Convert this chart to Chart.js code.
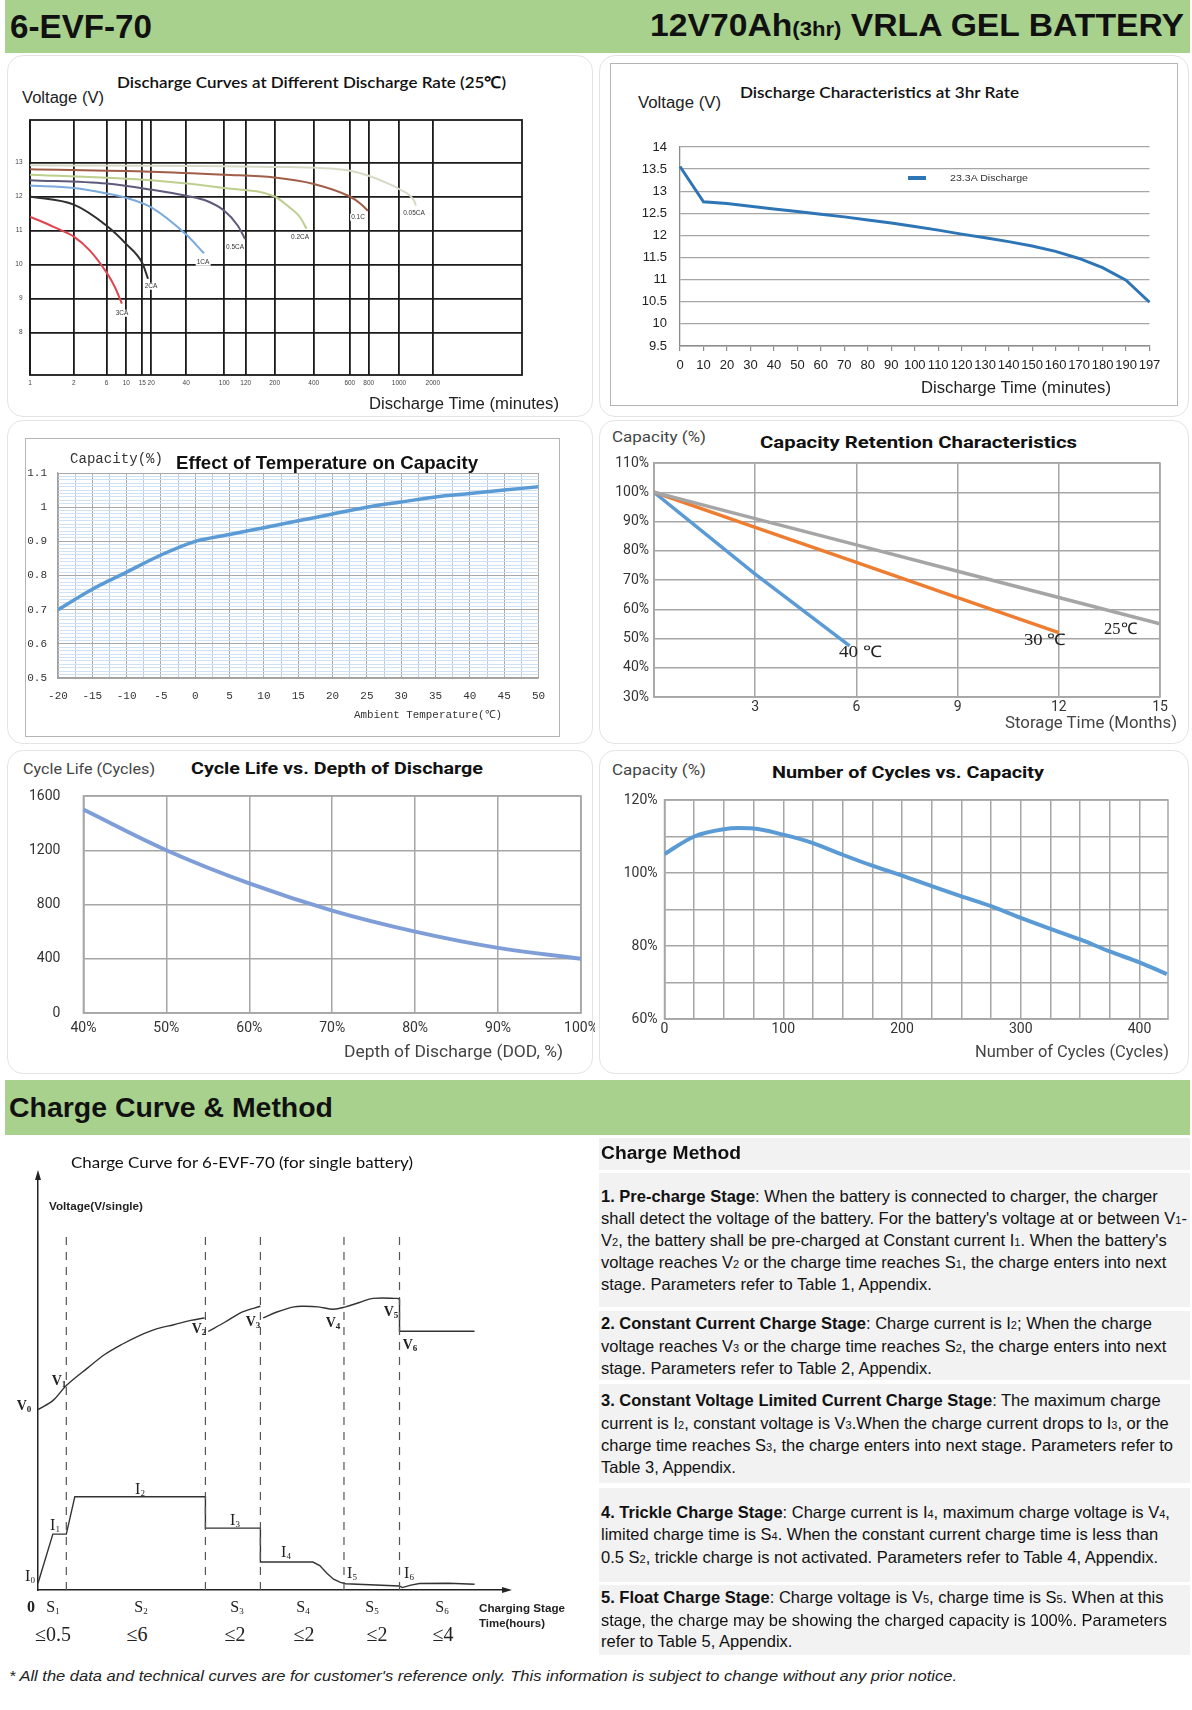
<!DOCTYPE html>
<html>
<head>
<meta charset="utf-8">
<script src="https://cdn.jsdelivr.net/npm/chart.js@4.4.1/dist/chart.umd.min.js"></script>
<style>
body { margin: 0; background: #fff; }
#page { position: relative; width: 1192px; height: 1710px; overflow: hidden; font-family: "Liberation Sans", Arial, sans-serif; color: #111; }
canvas { position: absolute; z-index: 1; }
.band { position: absolute; background: #a9d18e; }
.panel { position: absolute; border: 1px solid #e4e4e4; border-radius: 16px; }
.box { position: absolute; border: 1.5px solid #b4b4b4; }
.t { position: absolute; white-space: nowrap; line-height: 1; transform: translateY(-50%); transform-origin: 0 50%; z-index: 2; }
.c { position: absolute; white-space: nowrap; line-height: 1; transform: translate(-50%, -50%); z-index: 2; }
.lab { font-size: 6.5px; background: #fff; padding: 0 1px; color: #333; }
.sf { font-family: "Liberation Serif", "Times New Roman", serif; color: #222; }
.sf sub { font-size: 9px; vertical-align: -2px; }
.bd { font-weight: bold; }
.row { position: absolute; left: 599px; width: 591px; background: #f2f2f2; }
.ln { position: absolute; left: 601px; white-space: nowrap; font-size: 16.5px; line-height: 1; transform: translateY(-50%); z-index: 2; color: #111; }
.ln b { font-weight: bold; }
.sb { font-size: 11px; }
</style>
</head>
<body>
<div id="page">

<div class="band" style="left:5px;top:0;width:1185px;height:53px"></div>
<div class="t" data-w="142" style="left:10px;top:26px;font-weight:bold;font-size:33px;color:#111">6-EVF-70</div>
<div class="t" data-w="534" style="left:650px;top:25px;font-weight:bold;font-size:32px;color:#111">12V70Ah<span style="font-size:21px">(3hr)</span> VRLA GEL BATTERY</div>

<div class="panel" style="left:7px;top:55px;width:584px;height:360px"></div>
<div class="panel" style="left:599px;top:55px;width:588px;height:360px"></div>
<div class="panel" style="left:7px;top:420px;width:584px;height:322px"></div>
<div class="panel" style="left:599px;top:420px;width:588px;height:322px"></div>
<div class="panel" style="left:7px;top:750px;width:584px;height:322px"></div>
<div class="panel" style="left:599px;top:750px;width:588px;height:322px"></div>
<div class="box" style="left:610px;top:63px;width:566px;height:341px"></div>
<div class="box" style="left:25px;top:438px;width:533px;height:297px"></div>

<!-- top left texts -->
<div class="t" data-w="389" style="left:117px;top:82px;font-family:Lato,sans-serif;font-weight:600;font-size:16px;color:#111">Discharge Curves at Different Discharge Rate (25℃)</div>
<div class="t" data-w="82" style="left:22px;top:98px;font-size:16px;color:#222">Voltage (V)</div>
<div class="t" data-w="190" style="left:369px;top:404px;font-size:16px;color:#222">Discharge Time (minutes)</div>
<div class="c lab" style="left:122px;top:313px">3CA</div>
<div class="c lab" style="left:151px;top:286px">2CA</div>
<div class="c lab" style="left:203px;top:262px">1CA</div>
<div class="c lab" style="left:235px;top:247px">0.5CA</div>
<div class="c lab" style="left:300px;top:237px">0.2CA</div>
<div class="c lab" style="left:358px;top:217px">0.1C</div>
<div class="c lab" style="left:414px;top:213px">0.05CA</div>

<!-- top right texts -->
<div class="t" data-w="279" style="left:740px;top:92px;font-family:Lato,sans-serif;font-weight:600;font-size:16px;color:#111">Discharge Characteristics at 3hr Rate</div>
<div class="t" data-w="83" style="left:638px;top:103px;font-size:16px;color:#222">Voltage (V)</div>
<div class="t" data-w="190" style="left:921px;top:388px;font-size:16px;color:#222">Discharge Time (minutes)</div>
<div style="position:absolute;left:908px;top:176px;width:18px;height:4px;background:#2e75b6;z-index:2"></div>
<div class="t" data-w="78" style="left:950px;top:178px;font-size:9.5px;color:#333">23.3A Discharge</div>

<!-- middle left texts -->
<div class="t" data-w="93" style="left:70px;top:459px;font-family:'Liberation Mono',monospace;font-size:14px;color:#333">Capacity(%)</div>
<div class="t" data-w="302" style="left:176px;top:462px;font-weight:bold;font-size:19px;color:#111">Effect of Temperature on Capacity</div>
<div class="t" data-w="148" style="left:354px;top:715px;font-family:'Liberation Mono',monospace;font-size:11px;color:#333">Ambient Temperature(℃)</div>

<!-- middle right texts -->
<div class="t" data-w="94" style="left:612px;top:437px;font-family:Roboto,sans-serif;font-size:15px;color:#444">Capacity (%)</div>
<div class="t" data-w="317" style="left:760px;top:442px;font-family:Roboto,sans-serif;font-weight:bold;font-size:17px;color:#111">Capacity Retention Characteristics</div>
<div class="t" data-w="172" style="left:1005px;top:723px;font-family:Roboto,sans-serif;font-size:16px;color:#444">Storage Time (Months)</div>
<div class="t sf" data-w="43" style="left:839px;top:652px;font-size:16px">40 ℃</div>
<div class="t sf" data-w="42" style="left:1024px;top:640px;font-size:16px">30 ℃</div>
<div class="t sf" data-w="33" style="left:1104px;top:629px;font-size:16px">25℃</div>

<!-- bottom left texts -->
<div class="t" data-w="132" style="left:23px;top:769px;font-family:Roboto,sans-serif;font-size:15px;color:#444">Cycle Life (Cycles)</div>
<div class="t" data-w="292" style="left:191px;top:768px;font-family:Roboto,sans-serif;font-weight:bold;font-size:17px;color:#111">Cycle Life vs. Depth of Discharge</div>
<div class="t" data-w="219" style="left:344px;top:1052px;font-family:Roboto,sans-serif;font-size:16px;color:#444">Depth of Discharge (DOD, %)</div>

<!-- bottom right texts -->
<div class="t" data-w="94" style="left:612px;top:770px;font-family:Roboto,sans-serif;font-size:15px;color:#444">Capacity (%)</div>
<div class="t" data-w="272" style="left:772px;top:772px;font-family:Roboto,sans-serif;font-weight:bold;font-size:17px;color:#111">Number of Cycles vs. Capacity</div>
<div class="t" data-w="194" style="left:975px;top:1052px;font-family:Roboto,sans-serif;font-size:16px;color:#444">Number of Cycles (Cycles)</div>

<!-- charge section -->
<div class="band" style="left:5px;top:1080px;width:1185px;height:55px"></div>
<div class="t" data-w="324" style="left:9px;top:1108px;font-weight:bold;font-size:28px;color:#111">Charge Curve &amp; Method</div>
<div class="t" data-w="342" style="left:71px;top:1162px;font-family:Lato,sans-serif;font-size:16px;color:#111">Charge Curve for 6-EVF-70 (for single battery)</div>
<div class="t" data-w="94" style="left:49px;top:1206px;font-weight:bold;font-size:10.5px;color:#222">Voltage(V/single)</div>

<div class="c sf bd" style="left:24px;top:1406px;font-size:14px">V<sub>0</sub></div>
<div class="c sf bd" style="left:59px;top:1381px;font-size:14px">V<sub>1</sub></div>
<div class="c sf bd" style="left:199px;top:1329px;font-size:14px">V<sub>2</sub></div>
<div class="c sf bd" style="left:253px;top:1322px;font-size:14px">V<sub>3</sub></div>
<div class="c sf bd" style="left:333px;top:1323px;font-size:14px">V<sub>4</sub></div>
<div class="c sf bd" style="left:391px;top:1312px;font-size:14px">V<sub>5</sub></div>
<div class="c sf bd" style="left:410px;top:1345px;font-size:14px">V<sub>6</sub></div>
<div class="c sf" style="left:30px;top:1576px;font-size:16px">I<sub>0</sub></div>
<div class="c sf" style="left:55px;top:1525px;font-size:16px">I<sub>1</sub></div>
<div class="c sf" style="left:140px;top:1489px;font-size:16px">I<sub>2</sub></div>
<div class="c sf" style="left:235px;top:1520px;font-size:16px">I<sub>3</sub></div>
<div class="c sf" style="left:286px;top:1552px;font-size:16px">I<sub>4</sub></div>
<div class="c sf" style="left:352px;top:1573px;font-size:16px">I<sub>5</sub></div>
<div class="c sf" style="left:409px;top:1573px;font-size:16px">I<sub>6</sub></div>

<div class="c sf bd" style="left:31px;top:1607px;font-size:16px">0</div>
<div class="c sf" style="left:53px;top:1607px;font-size:16px">S<sub>1</sub></div>
<div class="c sf" style="left:141px;top:1607px;font-size:16px">S<sub>2</sub></div>
<div class="c sf" style="left:237px;top:1607px;font-size:16px">S<sub>3</sub></div>
<div class="c sf" style="left:303px;top:1607px;font-size:16px">S<sub>4</sub></div>
<div class="c sf" style="left:372px;top:1607px;font-size:16px">S<sub>5</sub></div>
<div class="c sf" style="left:442px;top:1607px;font-size:16px">S<sub>6</sub></div>
<div class="c sf" style="left:53px;top:1634px;font-size:20px">≤0.5</div>
<div class="c sf" style="left:137px;top:1634px;font-size:20px">≤6</div>
<div class="c sf" style="left:235px;top:1634px;font-size:20px">≤2</div>
<div class="c sf" style="left:304px;top:1634px;font-size:20px">≤2</div>
<div class="c sf" style="left:377px;top:1634px;font-size:20px">≤2</div>
<div class="c sf" style="left:443px;top:1634px;font-size:20px">≤4</div>
<div class="t" data-w="86" style="left:479px;top:1608px;font-weight:bold;font-size:10.5px;color:#222">Charging Stage</div>
<div class="t" data-w="66" style="left:479px;top:1623px;font-weight:bold;font-size:10.5px;color:#222">Time(hours)</div>

<!-- charge method text -->
<div class="row" style="top:1138px;height:32px"></div>
<div class="row" style="top:1173px;height:134px"></div>
<div class="row" style="top:1311px;height:69px"></div>
<div class="row" style="top:1384px;height:99px"></div>
<div class="row" style="top:1488px;height:94px"></div>
<div class="row" style="top:1585px;height:70px"></div>
<div class="t" data-w="140" style="left:601px;top:1153px;font-weight:bold;font-size:18px;color:#111">Charge Method</div>

<div class="ln" style="top:1196px"><b>1. Pre-charge Stage</b>: When the battery is connected to charger, the charger</div>
<div class="ln" style="top:1218px">shall detect the voltage of the battery. For the battery's voltage at or between V<span class="sb">1</span>-</div>
<div class="ln" style="top:1240px">V<span class="sb">2</span>, the battery shall be pre-charged at Constant current I<span class="sb">1</span>. When the battery's</div>
<div class="ln" style="top:1262px">voltage reaches V<span class="sb">2</span> or the charge time reaches S<span class="sb">1</span>, the charge enters into next</div>
<div class="ln" style="top:1284px">stage. Parameters refer to Table 1, Appendix.</div>

<div class="ln" style="top:1323px"><b>2. Constant Current Charge Stage</b>: Charge current is I<span class="sb">2</span>; When the charge</div>
<div class="ln" style="top:1346px">voltage reaches V<span class="sb">3</span> or the charge time reaches S<span class="sb">2</span>, the charge enters into next</div>
<div class="ln" style="top:1368px">stage. Parameters refer to Table 2, Appendix.</div>

<div class="ln" style="top:1400px"><b>3. Constant Voltage Limited Current Charge Stage</b>: The maximum charge</div>
<div class="ln" style="top:1423px">current is I<span class="sb">2</span>, constant voltage is V<span class="sb">3</span>.When the charge current drops to I<span class="sb">3</span>, or the</div>
<div class="ln" style="top:1445px">charge time reaches S<span class="sb">3</span>, the charge enters into next stage. Parameters refer to</div>
<div class="ln" style="top:1467px">Table 3, Appendix.</div>

<div class="ln" style="top:1512px"><b>4. Trickle Charge Stage</b>: Charge current is I<span class="sb">4</span>, maximum charge voltage is V<span class="sb">4</span>,</div>
<div class="ln" style="top:1534px">limited charge time is S<span class="sb">4</span>. When the constant current charge time is less than</div>
<div class="ln" style="top:1557px">0.5 S<span class="sb">2</span>, trickle charge is not activated. Parameters refer to Table 4, Appendix.</div>

<div class="ln" style="top:1597px"><b>5. Float Charge Stage</b>: Charge voltage is V<span class="sb">5</span>, charge time is S<span class="sb">5</span>. When at this</div>
<div class="ln" style="top:1620px">stage, the charge may be showing the charged capacity is 100%. Parameters</div>
<div class="ln" style="top:1641px">refer to Table 5, Appendix.</div>

<div class="t" data-w="948" style="left:9px;top:1675px;font-style:italic;font-size:15px;color:#222">* All the data and technical curves are for customer's reference only. This information is subject to change without any prior notice.</div>

</div>

<script>
// ---------- data ----------
// Discharge curves at different rates: time (minutes), voltage (V)
const t3CA = [1, 1.55, 2, 3.96, 6, 7.67, 9.1];
const v3CA = [11.41, 11.1, 10.82, 10.41, 9.76, 9.34, 8.85];
const t2CA = [1, 2, 6, 10, 15, 18.2];
const v2CA = [12.0, 11.76, 11.14, 10.6, 10.04, 9.58];
const t1CA = [1, 2, 6, 10, 20, 40, 68];
const v1CA = [12.32, 12.25, 12.09, 11.96, 11.68, 10.88, 10.33];
const t05CA = [1, 6, 20, 40, 73.7, 100, 112.7, 119.4];
const v05CA = [12.48, 12.38, 12.2, 12.02, 11.86, 11.58, 11.14, 10.75];
const t02CA = [1, 20, 100, 200, 276, 330, 363];
const v02CA = [12.64, 12.48, 12.25, 12.0, 11.68, 11.39, 11.05];
const t01C = [1, 20, 100, 200, 400, 600, 717, 792];
const v01C = [12.8, 12.73, 12.64, 12.56, 12.37, 12.0, 11.78, 11.58];
const t005CA = [1, 200, 600, 800, 913, 1000, 1453, 1500];
const v005CA = [12.92, 12.87, 12.76, 12.61, 12.41, 12.22, 11.86, 11.73];
const minuteTicks = [1, 2, 6, 10, 15, 20, 40, 100, 120, 200, 400, 600, 800, 1000, 2000];
const voltTicks = [8, 9, 10, 11, 12, 13];

// Discharge at 3hr rate
const times3hr = ['0','10','20','30','40','50','60','70','80','90','100','110','120','130','140','150','160','170','180','190','197'];
const volts3hr = [13.56, 12.76, 12.72, 12.66, 12.6, 12.54, 12.48, 12.42, 12.35, 12.28, 12.2, 12.12, 12.03, 11.95, 11.86, 11.76, 11.64, 11.48, 11.27, 10.99, 10.49];

// Effect of temperature on capacity
const tempC = [-20, -15, -10, -5, 0, 5, 10, 15, 20, 25, 30, 35, 40, 45, 50];
const tempCap = [0.70, 0.76, 0.81, 0.86, 0.90, 0.92, 0.94, 0.96, 0.98, 1.00, 1.015, 1.03, 1.04, 1.05, 1.06];

// Capacity retention (months, %)
const months40 = [0, 3, 5.8];
const ret40 = [100, 72, 47.5];
const months30 = [0, 3, 6, 9, 12];
const ret30 = [100, 88, 76, 64, 52];
const months25 = [0, 3, 6, 9, 12, 15];
const ret25 = [100, 91, 82, 73, 64, 55];

// Cycle life vs DOD
const dodLabels = ['40%', '50%', '60%', '70%', '80%', '90%', '100%'];
const cycleLife = [1500, 1200, 955, 755, 600, 480, 400];

// Number of cycles vs capacity
const cycleNo = [0, 25, 50, 62, 75, 100, 125, 150, 175, 200, 225, 250, 275, 300, 325, 350, 375, 400, 423];
const cycleCap = [105.2, 110, 112, 112.3, 112.2, 110.5, 108.2, 105, 102, 99.3, 96.4, 93.6, 90.9, 87.7, 84.7, 81.8, 78.5, 75.5, 72.3];

// Charge curve schematic (stage units)
const stageEdges = [1.03, 6.09, 8.09, 11.13, 13.15];
const dashTop = 13.06;
const vSeg1x = [0, 0.56, 1.03, 1.81, 2.44, 3.06, 3.69, 4.31, 4.94, 5.56, 6.06];
const vSeg1y = [6.65, 7.0, 7.54, 8.19, 8.69, 9.06, 9.38, 9.63, 9.78, 9.94, 10.03];
const vSeg2x = [6.19, 6.81, 7.44, 8.09];
const vSeg2y = [9.53, 9.88, 10.25, 10.46];
const vSeg3x = [8.19, 8.69, 9.31, 9.69, 10.19, 10.75, 11.19, 11.69, 12.19, 13.06, 13.15];
const vSeg3y = [10.03, 10.25, 10.44, 10.46, 10.44, 10.35, 10.44, 10.6, 10.75, 10.75, 10.73];
const vFloatX = [13.15, 13.15, 15.88];
const vFloatY = [10.73, 9.54, 9.54];
const iX = [0, 0.54, 1.03, 1.34, 6.09, 6.09, 8.09, 8.09, 10.0, 10.25, 10.5, 10.75, 11.0, 11.19, 13.15, 13.25, 13.56, 13.88, 14.94, 15.88];
const iY = [0.25, 2.06, 2.06, 3.44, 3.44, 2.28, 2.28, 1.03, 1.03, 0.9, 0.63, 0.4, 0.28, 0.23, 0.15, 0.09, 0.18, 0.24, 0.25, 0.21];

// ---------- helpers ----------
const page = document.getElementById('page');
function mk(left, top, w, h) {
  const c = document.createElement('canvas');
  c.width = w; c.height = h;
  c.style.left = left + 'px'; c.style.top = top + 'px';
  page.appendChild(c);
  return c.getContext('2d');
}
function pts(xs, ys) { return xs.map((x, i) => ({ x: x, y: ys[i] })); }
function fixY(w) { return s => { s.width = w; s.paddingTop = 0; s.paddingBottom = 0; }; }
function fixX(h) { return s => { s.height = h; s.paddingLeft = 0; s.paddingRight = 0; }; }

Chart.defaults.animation = false;
Chart.defaults.responsive = false;
Chart.defaults.font.family = '"Liberation Sans", Arial, sans-serif';
Chart.defaults.plugins.legend.display = false;
Chart.defaults.plugins.tooltip.enabled = false;
Chart.defaults.elements.point.radius = 0;

const framePlugin = {
  id: 'frame',
  beforeDatasetsDraw(chart, args, opts) {
    if (!opts || !opts.color) return;
    const a = chart.chartArea, ctx = chart.ctx;
    ctx.save();
    ctx.strokeStyle = opts.color;
    ctx.lineWidth = opts.width || 1;
    ctx.strokeRect(a.left, a.top, a.right - a.left, a.bottom - a.top);
    ctx.restore();
  }
};
Chart.register(framePlugin);

// irregular time axis of the rate chart: where each labelled minute sits along the axis
const minuteTickPos = [0, 0.0891, 0.1558, 0.1957, 0.2283, 0.2464, 0.3174, 0.3949, 0.4384, 0.4971, 0.5768, 0.65, 0.6884, 0.75, 0.8188];
function minuteToFrac(v) {
  const m = minuteTicks, p = minuteTickPos, n = m.length;
  if (v <= m[0]) return 0;
  for (let i = 0; i < n - 1; i++) {
    if (v <= m[i + 1]) return p[i] + (v - m[i]) / (m[i + 1] - m[i]) * (p[i + 1] - p[i]);
  }
  return p[n - 1] + (v - m[n - 1]) / (m[n - 1] - m[n - 2]) * (p[n - 1] - p[n - 2]);
}
class BreakScale extends Chart.LinearScale {
  static id = 'breaks';
  getPixelForValue(v) { return this.getPixelForDecimal(minuteToFrac(v)); }
}
Chart.register(BreakScale);

// ---------- chart 1: discharge curves at different rates ----------
const rateSeries = [
  [t3CA, v3CA, '#e2444f'],
  [t2CA, v2CA, '#2f2f2f'],
  [t1CA, v1CA, '#7aa9dc'],
  [t05CA, v05CA, '#5d5a7a'],
  [t02CA, v02CA, '#bccf8e'],
  [t01C, v01C, '#a05e48'],
  [t005CA, v005CA, '#d6dac4']
];
new Chart(mk(0, 110, 530, 290), {
  type: 'line',
  data: {
    datasets: rateSeries.map(s => ({
      data: pts(s[0], s[1]), borderColor: s[2], borderWidth: 2, cubicInterpolationMode: 'monotone'
    }))
  },
  options: {
    layout: { padding: { top: 10, right: 8, left: 0, bottom: 0 } },
    plugins: { frame: { color: '#1a1a1a', width: 1.8 } },
    scales: {
      x: {
        type: 'breaks', min: 1, max: 2000,
        afterBuildTicks: s => { s.ticks = minuteTicks.map(v => ({ value: v })); },
        afterFit: fixX(25),
        grid: { color: '#1a1a1a', lineWidth: 1.8, drawTicks: false },
        border: { display: false },
        ticks: { autoSkip: false, maxRotation: 0, padding: 4.5, font: { size: 6.5 }, color: '#444', callback: v => String(v) }
      },
      y: {
        min: 6.75, max: 14.25,
        afterBuildTicks: s => { s.ticks = voltTicks.map(v => ({ value: v })); },
        afterFit: fixY(30),
        grid: { color: '#1a1a1a', lineWidth: 1.8, drawTicks: false },
        border: { display: false },
        ticks: { padding: 7.5, font: { size: 6.5 }, color: '#444', callback: v => String(v) }
      }
    }
  }
});

// ---------- chart 2: discharge at 3hr rate ----------
new Chart(mk(610, 135, 560, 250), {
  type: 'line',
  data: {
    labels: times3hr,
    datasets: [{ label: '23.3A Discharge', data: volts3hr, borderColor: '#2e75b6', borderWidth: 3, tension: 0 }]
  },
  options: {
    layout: { padding: { top: 12, right: 20.5, left: 0, bottom: 0 } },
    scales: {
      x: {
        type: 'category', offset: false,
        afterFit: fixX(39),
        grid: { display: true, drawOnChartArea: false, drawTicks: true, tickLength: 5, color: '#8c8c8c', lineWidth: 1.2 },
        border: { display: true, color: '#8c8c8c', width: 1.5 },
        ticks: { autoSkip: false, maxRotation: 0, padding: 7, font: { size: 13 }, color: '#222' }
      },
      y: {
        min: 9.5, max: 14,
        afterFit: fixY(70),
        grid: { color: '#a6a6a6', lineWidth: 1.3, drawTicks: false },
        border: { display: true, color: '#8c8c8c', width: 1.3 },
        ticks: { stepSize: 0.5, padding: 13, font: { size: 13 }, color: '#222', callback: v => String(v) }
      }
    }
  }
});

// ---------- chart 3: effect of temperature ----------
const isTenth = v => Math.abs(v * 10 - Math.round(v * 10)) < 1e-6;
new Chart(mk(25, 463, 530, 250), {
  type: 'line',
  data: { datasets: [{ data: pts(tempC, tempCap), borderColor: '#5b9bd5', borderWidth: 3.5, tension: 0.3 }] },
  options: {
    layout: { padding: { top: 10, right: 16.5, left: 0, bottom: 0 } },
    scales: {
      x: {
        type: 'linear', min: -20, max: 50,
        afterFit: fixX(35),
        grid: { color: ctx => (ctx.tick && ctx.tick.value % 5 === 0) ? '#a8a8a8' : '#bccbdb', lineWidth: 1, drawTicks: false },
        border: { display: true, color: '#a0a0a0', width: 1.2 },
        ticks: { stepSize: 2.5, autoSkip: false, maxRotation: 0, padding: 11, font: { family: '"Liberation Mono", monospace', size: 11 }, color: '#333',
          callback: v => (v % 5 === 0 ? String(v) : '') }
      },
      y: {
        min: 0.5, max: 1.1,
        afterFit: fixY(33),
        grid: { color: ctx => (ctx.tick && isTenth(ctx.tick.value)) ? '#a8a8a8' : '#cfe1f3', lineWidth: 1, drawTicks: false },
        border: { display: true, color: '#a0a0a0', width: 1.2 },
        ticks: { stepSize: 0.01, autoSkip: false, padding: 11, font: { family: '"Liberation Mono", monospace', size: 11 }, color: '#333',
          callback: v => (isTenth(v) ? String(Math.round(v * 10) / 10) : '') }
      }
    }
  }
});

// ---------- chart 4: capacity retention ----------
const dinFont = { family: 'Roboto, sans-serif', size: 14 };
new Chart(mk(598, 453, 575, 270), {
  type: 'line',
  data: {
    datasets: [
      { data: pts(months25, ret25), borderColor: '#a5a5a5', borderWidth: 3.5, tension: 0 },
      { data: pts(months30, ret30), borderColor: '#ed7d31', borderWidth: 3.5, tension: 0 },
      { data: pts(months40, ret40), borderColor: '#5b9bd5', borderWidth: 3.5, tension: 0 }
    ]
  },
  options: {
    layout: { padding: { top: 10, right: 13, left: 0, bottom: 0 } },
    plugins: { frame: { color: '#a6a6a6', width: 1.5 } },
    scales: {
      x: {
        type: 'linear', min: 0, max: 15,
        afterFit: fixX(26),
        grid: { color: '#a6a6a6', lineWidth: 1.5, drawTicks: false },
        border: { display: true, color: '#a6a6a6', width: 1.5 },
        ticks: { stepSize: 3, autoSkip: false, maxRotation: 0, padding: 2, font: dinFont, color: '#333', callback: v => (v === 0 ? '' : String(v)) }
      },
      y: {
        min: 30, max: 110,
        afterFit: fixY(56),
        grid: { color: '#a6a6a6', lineWidth: 1.5, drawTicks: false },
        border: { display: true, color: '#a6a6a6', width: 1.5 },
        ticks: { stepSize: 10, padding: 5, font: dinFont, color: '#333', callback: v => v + '%' }
      }
    }
  }
});

// ---------- chart 5: cycle life vs DOD ----------
new Chart(mk(5, 786, 590, 260), {
  type: 'line',
  data: { labels: dodLabels, datasets: [{ data: cycleLife, borderColor: '#7f9ed8', borderWidth: 4, tension: 0.4 }] },
  options: {
    layout: { padding: { top: 10, right: 14, left: 0, bottom: 0 } },
    plugins: { frame: { color: '#a6a6a6', width: 1.5 } },
    scales: {
      x: {
        type: 'category', offset: false,
        afterFit: fixX(33),
        grid: { color: '#a6a6a6', lineWidth: 1.5, drawTicks: false },
        border: { display: true, color: '#a6a6a6', width: 1.5 },
        ticks: { autoSkip: false, maxRotation: 0, padding: 7, font: dinFont, color: '#333' }
      },
      y: {
        min: 0, max: 1600,
        afterFit: fixY(78.4),
        grid: { color: '#a6a6a6', lineWidth: 1.5, drawTicks: false },
        border: { display: true, color: '#a6a6a6', width: 1.5 },
        ticks: { stepSize: 400, padding: 23, font: dinFont, color: '#333', callback: v => String(v) }
      }
    }
  }
});

// ---------- chart 6: number of cycles vs capacity ----------
new Chart(mk(598, 790, 585, 255), {
  type: 'line',
  data: { datasets: [{ data: pts(cycleNo, cycleCap), borderColor: '#5b9bd5', borderWidth: 4, cubicInterpolationMode: 'monotone' }] },
  options: {
    layout: { padding: { top: 10, right: 15, left: 0, bottom: 0 } },
    plugins: { frame: { color: '#a6a6a6', width: 1.5 } },
    scales: {
      x: {
        type: 'linear', min: 0, max: 424,
        afterFit: fixX(26),
        grid: { color: '#a6a6a6', lineWidth: 1.5, drawTicks: false },
        border: { display: true, color: '#a6a6a6', width: 1.5 },
        ticks: { stepSize: 25, includeBounds: false, autoSkip: false, maxRotation: 0, padding: 2, font: dinFont, color: '#333',
          callback: v => (v % 100 === 0 ? String(v) : '') }
      },
      y: {
        min: 60, max: 120,
        afterFit: fixY(66.5),
        grid: { color: '#a6a6a6', lineWidth: 1.5, drawTicks: false },
        border: { display: true, color: '#a6a6a6', width: 1.5 },
        ticks: { stepSize: 10, padding: 7, font: dinFont, color: '#333', callback: v => (v % 20 === 0 ? v + '%' : '') }
      }
    }
  }
});

// ---------- chart 7: charge curve schematic ----------
const arrowPlugin = {
  id: 'arrows',
  afterDraw(chart) {
    const a = chart.chartArea, ctx = chart.ctx;
    ctx.save();
    ctx.fillStyle = '#222';
    ctx.beginPath(); ctx.moveTo(a.left, a.top - 5); ctx.lineTo(a.left - 3, a.top + 5); ctx.lineTo(a.left + 3, a.top + 5); ctx.fill();
    ctx.beginPath(); ctx.moveTo(a.right + 5, a.bottom); ctx.lineTo(a.right - 5, a.bottom - 3); ctx.lineTo(a.right - 5, a.bottom + 3); ctx.fill();
    ctx.restore();
  }
};
const lineStyle = { borderColor: '#333', borderWidth: 1.4 };
new Chart(mk(20, 1165, 510, 440), {
  type: 'line',
  data: {
    datasets: stageEdges.map(e => ({ data: [{ x: e, y: 0 }, { x: e, y: dashTop }], borderColor: '#555', borderWidth: 1.2, borderDash: [8, 7] }))
      .concat([
        Object.assign({ data: pts(vSeg1x, vSeg1y), tension: 0.35 }, lineStyle),
        Object.assign({ data: pts(vSeg2x, vSeg2y), tension: 0.35 }, lineStyle),
        Object.assign({ data: pts(vSeg3x, vSeg3y), tension: 0.35 }, lineStyle),
        Object.assign({ data: pts(vFloatX, vFloatY), tension: 0 }, lineStyle),
        Object.assign({ data: pts(iX, iY), tension: 0 }, lineStyle)
      ])
  },
  options: {
    layout: { padding: { top: 10, right: 23, left: 0, bottom: 0 } },
    scales: {
      x: { type: 'linear', min: 0, max: 17.06, afterFit: fixX(15), grid: { display: false }, ticks: { display: false },
        border: { display: true, color: '#222', width: 1.5 } },
      y: { type: 'linear', min: 0, max: 15.3, afterFit: fixY(18), grid: { display: false }, ticks: { display: false },
        border: { display: true, color: '#222', width: 1.5 } }
    }
  },
  plugins: [arrowPlugin]
});

// ---------- fit labels to their measured widths ----------
function fitText() {
  document.querySelectorAll('[data-w]').forEach(el => {
    el.style.transform = 'translateY(-50%)';
    const w = el.getBoundingClientRect().width;
    const s = parseFloat(el.dataset.w) / w;
    el.style.transform = 'translateY(-50%) scaleX(' + s.toFixed(4) + ')';
  });
}
fitText();
if (document.fonts && document.fonts.ready) document.fonts.ready.then(fitText);
</script>
</body>
</html>
